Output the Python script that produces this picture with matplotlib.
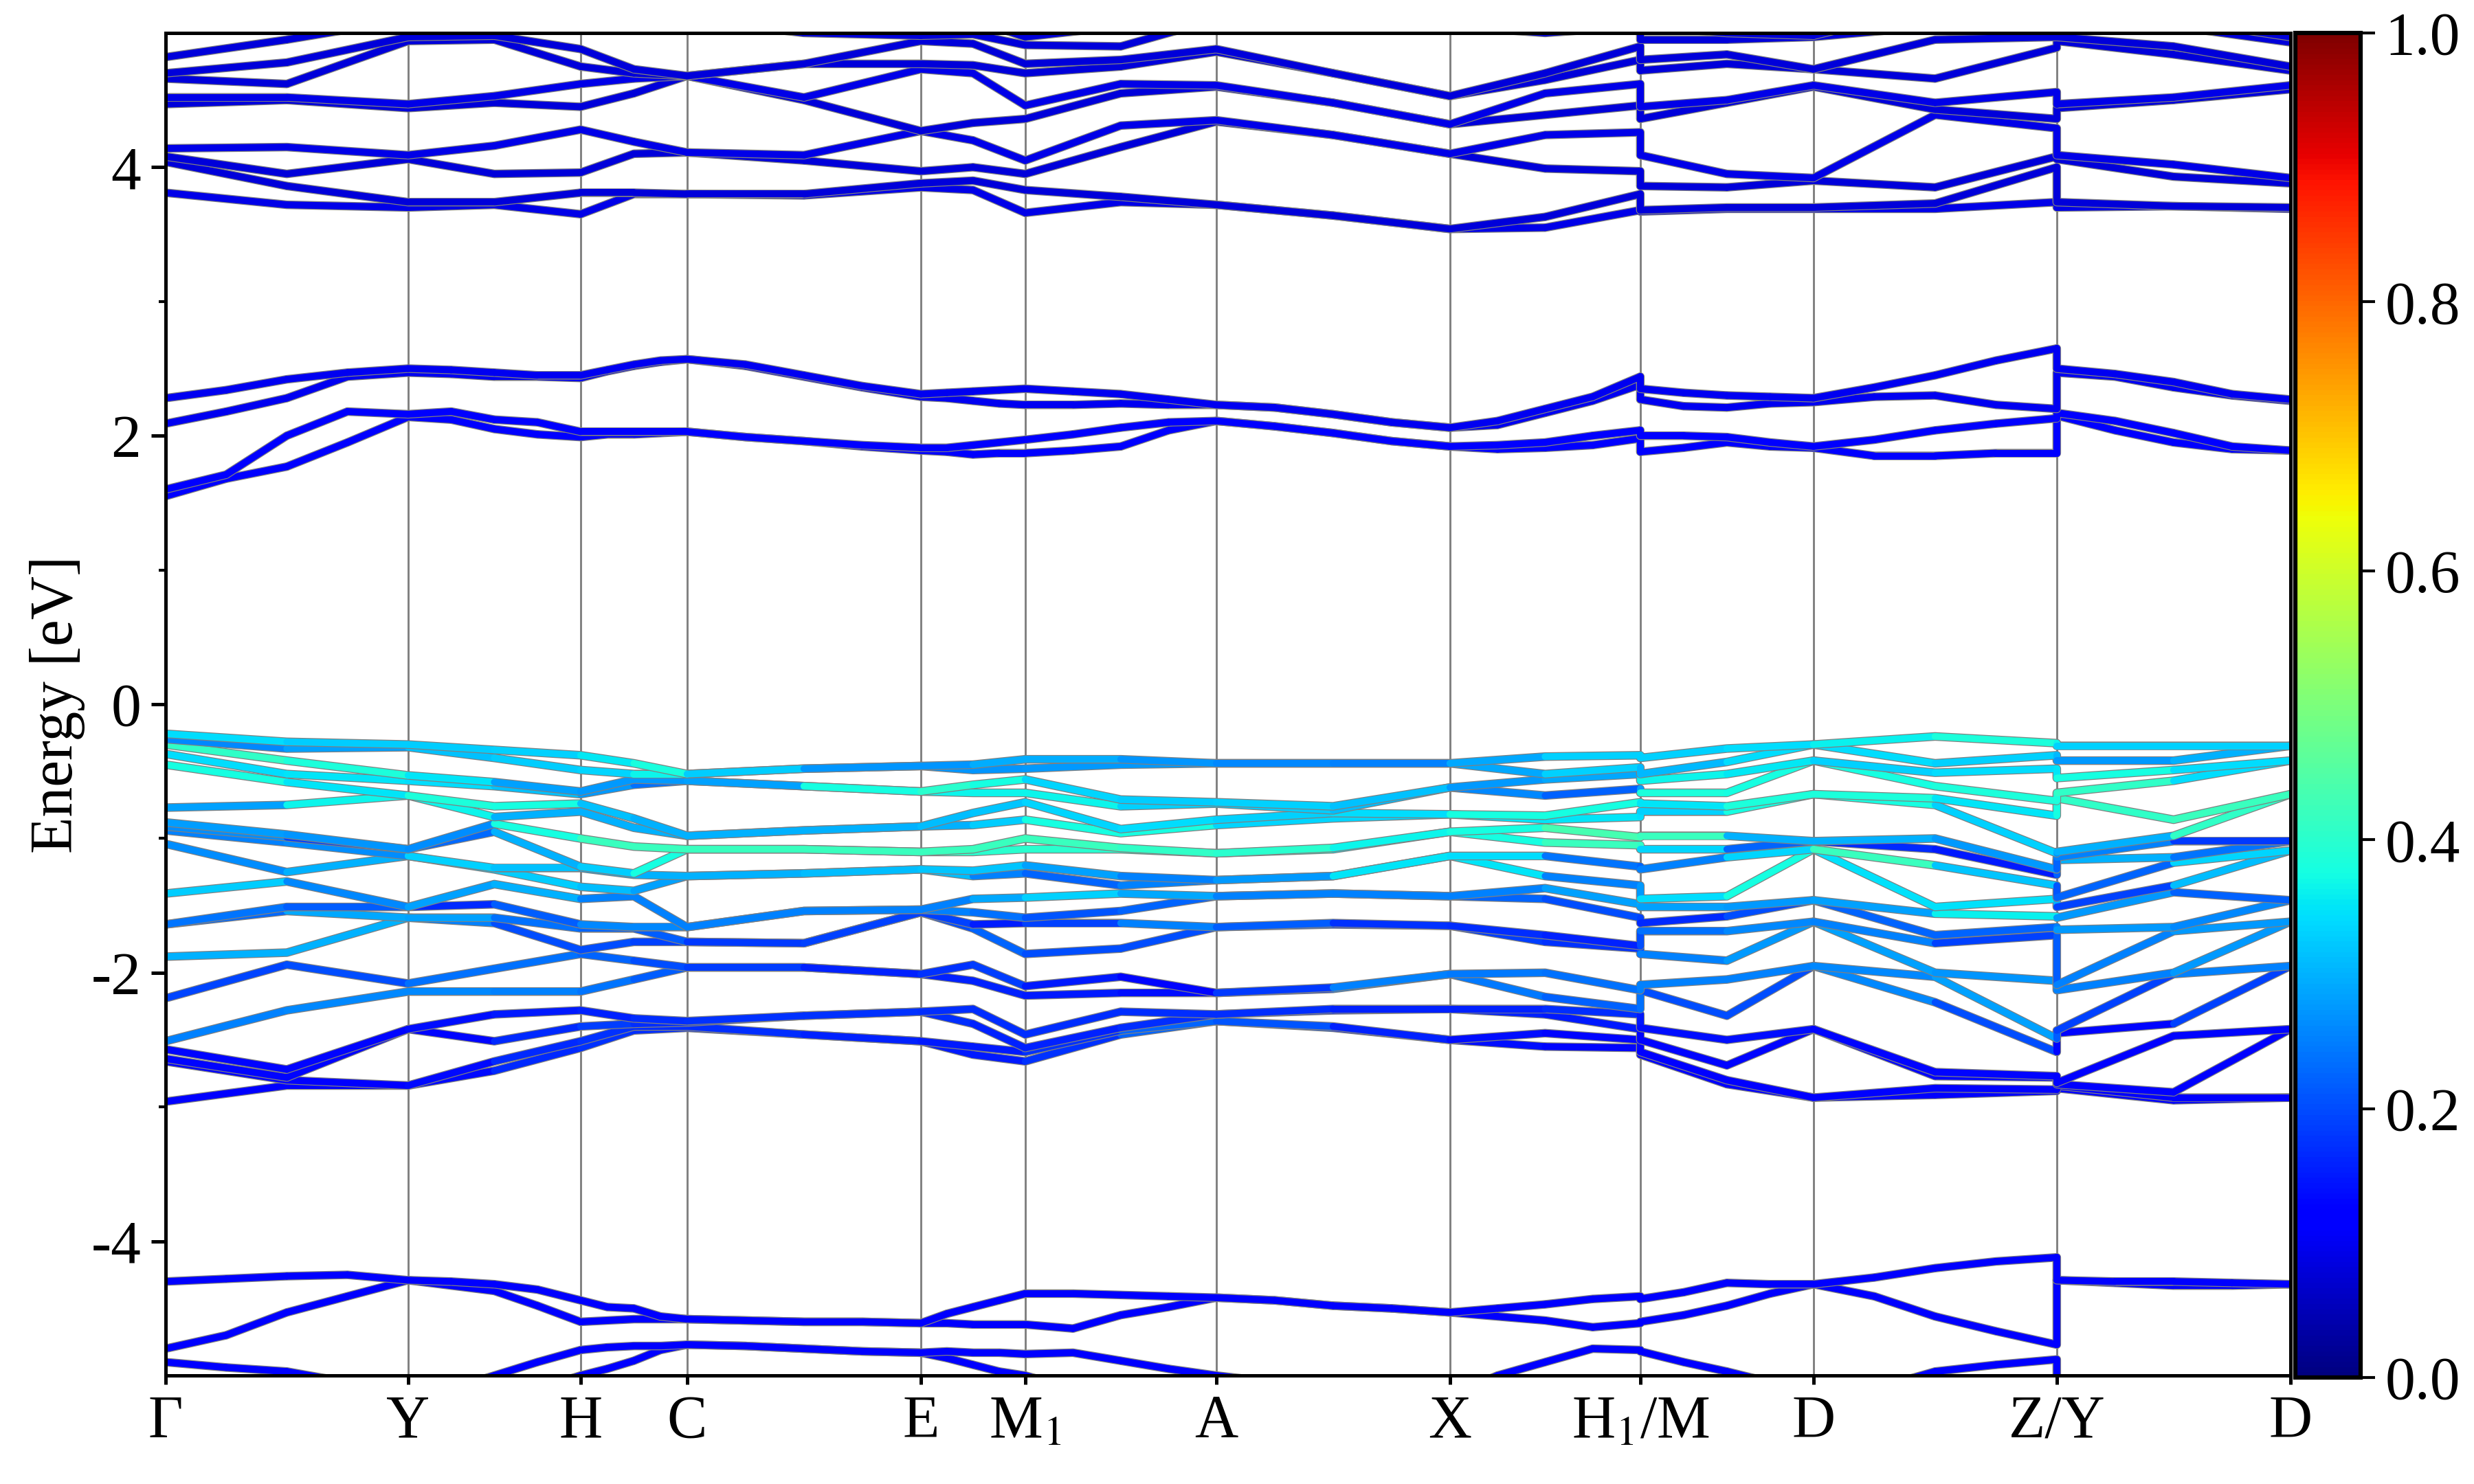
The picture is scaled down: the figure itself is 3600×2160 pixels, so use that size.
import numpy as np
import matplotlib
matplotlib.use('Agg')
import matplotlib.pyplot as plt
from matplotlib.collections import LineCollection
from matplotlib.colors import Normalize
from matplotlib.cm import ScalarMappable

plt.rcParams['font.family'] = ['Liberation Serif', 'DejaVu Serif']
plt.rcParams['mathtext.fontset'] = 'stix'
plt.rcParams['axes.unicode_minus'] = False

# high-symmetry path
labels = ['Γ', 'Y', 'H', 'C', 'E', 'M$_1$', 'A', 'X', 'H$_1$/M', 'D', 'Z/Y', 'D']
knodes = [0.0, 0.353, 0.604, 0.759, 1.099, 1.251, 1.529, 1.869, 2.146, 2.398, 2.752, 3.092]
breaks = [8, 10]   # H1|M and Z|Y are discontinuous

# energies (eV), one row per k-point: nodes + segment midpoints
valence = [
    [-0.22, -0.26, -0.30, -0.37, -0.45, -0.77, -0.88, -0.91, -0.94, -1.04, -1.41, -1.64, -1.64, -1.88, -2.19, -2.51, -2.57, -2.64, -2.66, -2.96],
    [-0.28, -0.33, -0.42, -0.52, -0.58, -0.75, -0.97, -0.99, -1.03, -1.25, -1.32, -1.51, -1.54, -1.85, -1.94, -2.28, -2.72, -2.78, -2.80, -2.84],
    [-0.30, -0.32, -0.53, -0.57, -0.68, -0.68, -1.08, -1.08, -1.13, -1.13, -1.51, -1.51, -1.59, -1.59, -2.08, -2.14, -2.42, -2.42, -2.84, -2.84],
    [-0.34, -0.40, -0.58, -0.61, -0.76, -0.84, -0.89, -0.95, -1.22, -1.23, -1.34, -1.49, -1.59, -1.63, -1.97, -2.14, -2.31, -2.51, -2.66, -2.73],
    [-0.38, -0.49, -0.65, -0.67, -0.74, -0.80, -1.00, -1.21, -1.22, -1.36, -1.45, -1.64, -1.67, -1.83, -1.86, -2.14, -2.28, -2.40, -2.51, -2.56],
    [-0.44, -0.52, -0.56, -0.60, -0.85, -0.92, -1.06, -1.26, -1.27, -1.39, -1.43, -1.66, -1.67, -1.77, -1.91, -2.05, -2.34, -2.38, -2.40, -2.43],
    [-0.52, -0.52, -0.57, -0.57, -0.98, -0.98, -1.08, -1.08, -1.28, -1.28, -1.66, -1.66, -1.77, -1.77, -1.96, -1.96, -2.36, -2.37, -2.40, -2.41],
    [-0.48, -0.48, -0.61, -0.61, -0.94, -0.94, -1.08, -1.08, -1.26, -1.26, -1.54, -1.54, -1.78, -1.78, -1.96, -1.96, -2.32, -2.32, -2.46, -2.46],
    [-0.46, -0.46, -0.65, -0.65, -0.91, -0.91, -1.10, -1.10, -1.23, -1.23, -1.53, -1.53, -1.55, -1.55, -2.01, -2.01, -2.29, -2.29, -2.51, -2.51],
    [-0.45, -0.49, -0.60, -0.66, -0.81, -0.90, -1.08, -1.10, -1.24, -1.28, -1.45, -1.55, -1.64, -1.67, -1.94, -2.06, -2.27, -2.38, -2.55, -2.61],
    [-0.41, -0.48, -0.56, -0.66, -0.73, -0.86, -1.00, -1.08, -1.20, -1.26, -1.44, -1.59, -1.63, -1.86, -2.10, -2.17, -2.46, -2.56, -2.59, -2.66],
    [-0.41, -0.45, -0.71, -0.76, -0.93, -0.96, -1.07, -1.08, -1.28, -1.35, -1.41, -1.54, -1.63, -1.82, -2.03, -2.15, -2.29, -2.41, -2.43, -2.46],
    [-0.44, -0.44, -0.73, -0.74, -0.86, -0.90, -1.11, -1.11, -1.31, -1.31, -1.43, -1.43, -1.66, -1.66, -2.15, -2.15, -2.31, -2.31, -2.36, -2.36],
    [-0.44, -0.44, -0.76, -0.79, -0.81, -0.85, -1.07, -1.08, -1.28, -1.28, -1.41, -1.41, -1.63, -1.64, -2.11, -2.12, -2.27, -2.28, -2.40, -2.41],
    [-0.44, -0.44, -0.62, -0.62, -0.82, -0.82, -0.95, -0.95, -1.13, -1.13, -1.43, -1.43, -1.65, -1.65, -2.01, -2.01, -2.27, -2.27, -2.50, -2.50],
    [-0.39, -0.52, -0.56, -0.68, -0.83, -0.86, -0.92, -1.03, -1.13, -1.28, -1.37, -1.45, -1.72, -1.77, -2.00, -2.18, -2.27, -2.31, -2.45, -2.55],
    [-0.38, -0.47, -0.52, -0.63, -0.73, -0.84, -0.99, -1.05, -1.21, -1.35, -1.49, -1.59, -1.80, -1.82, -2.13, -2.27, -2.31, -2.42, -2.50, -2.56],
    [-0.40, -0.52, -0.57, -0.66, -0.74, -0.80, -0.98, -1.08, -1.23, -1.45, -1.51, -1.63, -1.69, -1.86, -2.09, -2.13, -2.41, -2.50, -2.59, -2.61],
    [-0.33, -0.43, -0.52, -0.66, -0.76, -0.80, -0.98, -1.08, -1.14, -1.43, -1.51, -1.58, -1.69, -1.91, -2.05, -2.32, -2.50, -2.69, -2.80, -2.83],
    [-0.30, -0.30, -0.42, -0.42, -0.67, -0.67, -1.02, -1.02, -1.08, -1.08, -1.46, -1.46, -1.62, -1.62, -1.95, -1.95, -2.42, -2.42, -2.93, -2.93],
    [-0.24, -0.44, -0.51, -0.61, -0.70, -0.75, -1.00, -1.08, -1.20, -1.51, -1.56, -1.72, -1.78, -2.00, -2.03, -2.22, -2.74, -2.77, -2.86, -2.91],
    [-0.29, -0.38, -0.48, -0.72, -0.83, -1.11, -1.23, -1.27, -1.35, -1.45, -1.58, -1.66, -1.72, -2.06, -2.49, -2.59, -2.77, -2.78, -2.87, -2.88],
    [-0.31, -0.42, -0.55, -0.66, -0.70, -1.10, -1.14, -1.16, -1.44, -1.51, -1.59, -1.68, -2.09, -2.13, -2.43, -2.45, -2.82, -2.83, -2.84, -2.86],
    [-0.31, -0.42, -0.49, -0.57, -0.86, -0.98, -1.02, -1.14, -1.18, -1.35, -1.40, -1.66, -1.69, -2.00, -2.01, -2.38, -2.47, -2.89, -2.93, -2.95],
    [-0.31, -0.31, -0.42, -0.42, -0.67, -0.67, -1.02, -1.02, -1.09, -1.09, -1.46, -1.46, -1.62, -1.62, -1.95, -1.95, -2.42, -2.42, -2.93, -2.93],
]

# projected weight of every valence value above (same layout)
w_valence = [
    [0.35, 0.25, 0.40, 0.33, 0.40, 0.27, 0.22, 0.33, 0.30, 0.28, 0.35, 0.18, 0.20, 0.30, 0.24, 0.25, 0.13, 0.13, 0.13, 0.12],
    [0.33, 0.27, 0.42, 0.35, 0.35, 0.30, 0.34, 0.20, 0.20, 0.25, 0.30, 0.28, 0.28, 0.30, 0.15, 0.25, 0.13, 0.13, 0.12, 0.12],
    [0.32, 0.30, 0.35, 0.35, 0.43, 0.35, 0.18, 0.20, 0.35, 0.33, 0.15, 0.22, 0.30, 0.30, 0.25, 0.27, 0.13, 0.13, 0.12, 0.12],
    [0.33, 0.33, 0.35, 0.33, 0.42, 0.30, 0.33, 0.28, 0.33, 0.30, 0.35, 0.18, 0.27, 0.20, 0.22, 0.25, 0.15, 0.13, 0.15, 0.15],
    [0.33, 0.32, 0.22, 0.30, 0.33, 0.30, 0.42, 0.32, 0.30, 0.35, 0.25, 0.25, 0.20, 0.20, 0.25, 0.25, 0.15, 0.20, 0.18, 0.18],
    [0.38, 0.35, 0.33, 0.25, 0.30, 0.30, 0.42, 0.33, 0.30, 0.27, 0.25, 0.27, 0.25, 0.20, 0.20, 0.23, 0.17, 0.17, 0.17, 0.17],
    [0.38, 0.38, 0.22, 0.22, 0.30, 0.30, 0.42, 0.42, 0.30, 0.30, 0.25, 0.25, 0.18, 0.18, 0.20, 0.20, 0.17, 0.17, 0.17, 0.17],
    [0.27, 0.27, 0.35, 0.35, 0.30, 0.30, 0.42, 0.42, 0.30, 0.30, 0.25, 0.25, 0.18, 0.18, 0.17, 0.17, 0.18, 0.18, 0.17, 0.17],
    [0.27, 0.27, 0.40, 0.40, 0.30, 0.30, 0.42, 0.42, 0.32, 0.32, 0.25, 0.25, 0.20, 0.20, 0.15, 0.15, 0.17, 0.17, 0.15, 0.15],
    [0.27, 0.27, 0.40, 0.33, 0.32, 0.30, 0.42, 0.40, 0.32, 0.30, 0.25, 0.25, 0.18, 0.20, 0.20, 0.17, 0.17, 0.17, 0.15, 0.15],
    [0.32, 0.27, 0.35, 0.40, 0.32, 0.35, 0.42, 0.40, 0.32, 0.20, 0.33, 0.22, 0.13, 0.25, 0.17, 0.15, 0.17, 0.15, 0.15, 0.15],
    [0.27, 0.28, 0.32, 0.33, 0.35, 0.40, 0.42, 0.40, 0.25, 0.25, 0.33, 0.20, 0.25, 0.15, 0.13, 0.15, 0.17, 0.17, 0.20, 0.20],
    [0.27, 0.27, 0.33, 0.33, 0.33, 0.35, 0.40, 0.40, 0.25, 0.25, 0.25, 0.25, 0.25, 0.25, 0.13, 0.13, 0.17, 0.17, 0.25, 0.25],
    [0.25, 0.25, 0.33, 0.32, 0.33, 0.32, 0.40, 0.38, 0.30, 0.30, 0.25, 0.25, 0.18, 0.18, 0.23, 0.23, 0.17, 0.17, 0.17, 0.17],
    [0.25, 0.25, 0.30, 0.30, 0.35, 0.35, 0.33, 0.33, 0.40, 0.40, 0.25, 0.25, 0.17, 0.17, 0.27, 0.27, 0.15, 0.15, 0.15, 0.15],
    [0.33, 0.33, 0.25, 0.22, 0.40, 0.35, 0.42, 0.42, 0.28, 0.30, 0.25, 0.20, 0.17, 0.20, 0.22, 0.22, 0.17, 0.17, 0.13, 0.13],
    [0.33, 0.33, 0.33, 0.22, 0.35, 0.35, 0.45, 0.42, 0.20, 0.20, 0.32, 0.20, 0.15, 0.15, 0.25, 0.22, 0.17, 0.13, 0.13, 0.13],
    [0.33, 0.28, 0.35, 0.35, 0.35, 0.33, 0.42, 0.40, 0.25, 0.35, 0.27, 0.18, 0.25, 0.25, 0.25, 0.25, 0.13, 0.13, 0.13, 0.13],
    [0.33, 0.33, 0.38, 0.42, 0.35, 0.33, 0.42, 0.27, 0.25, 0.33, 0.30, 0.15, 0.22, 0.25, 0.25, 0.15, 0.15, 0.13, 0.12, 0.12],
    [0.35, 0.35, 0.33, 0.33, 0.42, 0.42, 0.18, 0.18, 0.42, 0.42, 0.25, 0.25, 0.30, 0.30, 0.25, 0.25, 0.13, 0.13, 0.12, 0.12],
    [0.37, 0.33, 0.33, 0.42, 0.35, 0.33, 0.42, 0.15, 0.42, 0.27, 0.32, 0.20, 0.20, 0.27, 0.27, 0.27, 0.13, 0.13, 0.13, 0.13],
    [0.40, 0.33, 0.35, 0.35, 0.35, 0.33, 0.13, 0.15, 0.22, 0.42, 0.40, 0.25, 0.18, 0.27, 0.30, 0.13, 0.13, 0.13, 0.12, 0.12],
    [0.33, 0.28, 0.35, 0.42, 0.40, 0.20, 0.32, 0.30, 0.20, 0.18, 0.33, 0.25, 0.25, 0.25, 0.13, 0.13, 0.12, 0.12, 0.12, 0.12],
    [0.33, 0.27, 0.40, 0.40, 0.42, 0.40, 0.18, 0.30, 0.25, 0.20, 0.22, 0.30, 0.25, 0.25, 0.25, 0.13, 0.13, 0.12, 0.12, 0.12],
    [0.33, 0.33, 0.28, 0.28, 0.42, 0.42, 0.18, 0.18, 0.42, 0.42, 0.22, 0.22, 0.30, 0.30, 0.25, 0.25, 0.13, 0.13, 0.12, 0.12],
]

cond_high = [
    [3.81, 4.04, 4.08, 4.14, 4.47, 4.52, 4.66, 4.70, 4.82, 5.10],
    [3.72, 3.86, 3.95, 4.15, 4.50, 4.52, 4.62, 4.78, 4.95, 5.10],
    [3.70, 3.74, 4.06, 4.09, 4.44, 4.47, 4.94, 4.97, 5.10, 5.15],
    [3.72, 3.74, 3.95, 4.16, 4.48, 4.53, 4.95, 4.98, 5.10, 5.20],
    [3.65, 3.81, 3.96, 4.28, 4.45, 4.62, 4.75, 4.88, 5.02, 5.20],
    [3.80, 3.81, 4.10, 4.19, 4.55, 4.66, 4.70, 4.73, 5.05, 5.20],
    [3.80, 3.80, 4.11, 4.11, 4.68, 4.68, 4.68, 4.68, 5.10, 5.20],
    [3.79, 3.80, 4.05, 4.09, 4.50, 4.52, 4.77, 4.77, 5.00, 5.10],
    [3.85, 3.88, 3.97, 4.27, 4.27, 4.73, 4.77, 4.94, 4.98, 5.10],
    [3.83, 3.90, 4.00, 4.20, 4.33, 4.70, 4.76, 4.92, 4.99, 5.10],
    [3.66, 3.83, 3.95, 4.05, 4.36, 4.46, 4.70, 4.77, 4.91, 4.97],
    [3.74, 3.78, 4.15, 4.31, 4.55, 4.62, 4.75, 4.80, 4.90, 5.05],
    [3.72, 3.72, 4.34, 4.35, 4.60, 4.61, 4.86, 4.88, 5.10, 5.10],
    [3.64, 3.64, 4.24, 4.24, 4.48, 4.48, 4.70, 4.70, 5.10, 5.10],
    [3.54, 3.54, 4.10, 4.10, 4.32, 4.32, 4.53, 4.53, 5.05, 5.05],
    [3.55, 3.63, 3.99, 4.24, 4.39, 4.55, 4.65, 4.70, 5.00, 5.10],
    [3.68, 3.80, 3.97, 4.26, 4.46, 4.62, 4.80, 4.90, 5.05, 5.15],
    [3.67, 3.68, 3.86, 4.09, 4.36, 4.45, 4.72, 4.80, 4.95, 5.05],
    [3.69, 3.70, 3.85, 3.95, 4.48, 4.50, 4.77, 4.84, 4.95, 5.00],
    [3.69, 3.70, 3.90, 3.92, 4.60, 4.61, 4.73, 4.73, 4.97, 4.98],
    [3.69, 3.73, 3.85, 4.39, 4.43, 4.48, 4.66, 4.95, 5.05, 5.20],
    [3.74, 4.00, 4.08, 4.29, 4.36, 4.56, 4.89, 4.97, 5.05, 5.20],
    [3.70, 3.74, 4.06, 4.09, 4.44, 4.47, 4.94, 4.97, 5.10, 5.15],
    [3.71, 3.71, 3.93, 4.02, 4.50, 4.52, 4.84, 4.90, 5.05, 5.10],
    [3.69, 3.70, 3.88, 3.92, 4.58, 4.61, 4.72, 4.75, 4.93, 4.97],
]

# these two groups are read at quarter points of every segment
cond_low = [
    [1.55, 1.60, 2.09, 2.28], [1.68, 1.71, 2.18, 2.34], [1.77, 2.00, 2.28, 2.42], [1.95, 2.18, 2.44, 2.47],
    [2.14, 2.16, 2.47, 2.50], [2.12, 2.18, 2.46, 2.49], [2.05, 2.12, 2.44, 2.47], [2.01, 2.10, 2.44, 2.45],
    [1.99, 2.03, 2.43, 2.45], [2.01, 2.03, 2.48, 2.49], [2.01, 2.03, 2.52, 2.53], [2.02, 2.03, 2.55, 2.56],
    [2.03, 2.03, 2.57, 2.57], [1.99, 1.99, 2.52, 2.53], [1.96, 1.96, 2.44, 2.45], [1.92, 1.93, 2.36, 2.37],
    [1.89, 1.91, 2.29, 2.31], [1.88, 1.91, 2.28, 2.32], [1.86, 1.93, 2.26, 2.33], [1.87, 1.95, 2.24, 2.34],
    [1.87, 1.97, 2.23, 2.35], [1.89, 2.01, 2.23, 2.33], [1.92, 2.06, 2.24, 2.31], [2.04, 2.10, 2.23, 2.27],
    [2.11, 2.11, 2.23, 2.23], [2.07, 2.07, 2.21, 2.21], [2.02, 2.02, 2.16, 2.16], [1.96, 1.96, 2.10, 2.10],
    [1.92, 1.92, 2.06, 2.06], [1.90, 1.93, 2.08, 2.11], [1.91, 1.95, 2.17, 2.20], [1.93, 2.00, 2.26, 2.29],
    [1.98, 2.04, 2.38, 2.44], [1.88, 2.00, 2.27, 2.35], [1.91, 2.00, 2.22, 2.32], [1.95, 1.99, 2.21, 2.30],
    [1.92, 1.95, 2.24, 2.29], [1.91, 1.92, 2.25, 2.28], [1.85, 1.97, 2.29, 2.36], [1.85, 2.04, 2.30, 2.45],
    [1.87, 2.09, 2.23, 2.56], [1.87, 2.13, 2.20, 2.65], [2.15, 2.17, 2.47, 2.50], [2.04, 2.11, 2.44, 2.46],
    [1.95, 2.02, 2.36, 2.40], [1.90, 1.92, 2.30, 2.31], [1.89, 1.89, 2.26, 2.27],
]

deep = [
    [-5.25, -4.90, -4.80, -4.30], [-5.22, -4.94, -4.70, -4.28], [-5.20, -4.97, -4.53, -4.26], [-5.20, -5.05, -4.41, -4.25],
    [-5.20, -5.10, -4.29, -4.29], [-5.20, -5.10, -4.33, -4.30], [-5.20, -5.00, -4.37, -4.32], [-5.10, -4.90, -4.48, -4.36],
    [-5.00, -4.81, -4.60, -4.44], [-4.95, -4.79, -4.59, -4.49], [-4.89, -4.78, -4.58, -4.50], [-4.81, -4.78, -4.58, -4.56],
    [-4.77, -4.77, -4.58, -4.58], [-4.78, -4.78, -4.59, -4.59], [-4.80, -4.80, -4.60, -4.60], [-4.82, -4.82, -4.60, -4.60],
    [-4.83, -4.83, -4.61, -4.61], [-4.87, -4.82, -4.61, -4.54], [-4.92, -4.83, -4.62, -4.49], [-4.97, -4.83, -4.62, -4.44],
    [-5.00, -4.84, -4.62, -4.39], [-5.10, -4.83, -4.65, -4.39], [-5.10, -4.89, -4.55, -4.40], [-5.10, -4.95, -4.49, -4.41],
    [-5.10, -5.00, -4.42, -4.42], [-5.10, -5.05, -4.44, -4.44], [-5.15, -5.10, -4.48, -4.48], [-5.15, -5.12, -4.50, -4.50],
    [-5.20, -5.15, -4.53, -4.53], [-5.15, -5.00, -4.56, -4.50], [-5.10, -4.90, -4.59, -4.47], [-5.05, -4.80, -4.64, -4.43],
    [-5.05, -4.81, -4.61, -4.41], [-5.05, -4.82, -4.60, -4.43], [-5.10, -4.90, -4.55, -4.38], [-5.10, -4.97, -4.48, -4.31],
    [-5.15, -5.05, -4.39, -4.32], [-5.15, -5.10, -4.32, -4.32], [-5.15, -5.10, -4.41, -4.27], [-5.10, -4.97, -4.56, -4.20],
    [-5.10, -4.92, -4.67, -4.15], [-5.10, -4.88, -4.77, -4.12], [-5.20, -5.10, -4.29, -4.29], [-5.20, -5.10, -4.30, -4.31],
    [-5.20, -5.10, -4.30, -4.33], [-5.15, -5.10, -4.31, -4.33], [-5.15, -5.10, -4.32, -4.32],
]

# weights of the other groups, one per band (lowest band first)
w_cond_low = [0.11, 0.11, 0.10, 0.10]
w_cond_high = [0.09, 0.08, 0.08, 0.09, 0.08, 0.09, 0.08, 0.08, 0.08, 0.08]
w_deep = [0.11, 0.11, 0.11, 0.11]


def kgrid(nrows):
    # k coordinate of each row: nodes, equally spaced readings, repeated break nodes
    n = (nrows - 14) // 11 + 1
    kx = []
    for i in range(len(knodes) - 1):
        a, b = knodes[i], knodes[i + 1]
        kx.append(a)
        if i in breaks:
            kx.append(a)
        for j in range(1, n):
            kx.append(a + (b - a) * j / n)
    kx.append(knodes[-1])
    return np.array(kx)


cmap = plt.get_cmap('jet')
norm = Normalize(0, 1)

fig = plt.figure(figsize=(12, 7.2), dpi=300)
ax = fig.add_axes([0.0669, 0.0731, 0.8589, 0.9047])
cax = fig.add_axes([0.9278, 0.0718, 0.0264, 0.9060])

for k in knodes[1:-1]:
    ax.axvline(k, color='0.5', lw=0.7, zorder=1)


def draw_bands(table, weights):
    e = np.array(table)
    order = np.argsort(e, axis=1, kind='stable')
    e = np.take_along_axis(e, order, axis=1)
    w = np.array(weights, dtype=float)
    if w.ndim == 2:
        w = np.take_along_axis(w, order, axis=1)
    else:
        w = np.tile(w, (e.shape[0], 1))
    kx = kgrid(len(table))
    for j in range(e.shape[1]):
        ax.plot(kx, e[:, j], color='0.5', lw=3.0, solid_joinstyle='round',
                solid_capstyle='round', zorder=2)
        pts = np.column_stack([kx, e[:, j]])
        segs = np.stack([pts[:-1], pts[1:]], axis=1)
        lc = LineCollection(segs, cmap=cmap, norm=norm, lw=2.4,
                            capstyle='round', joinstyle='round', zorder=2)
        lc.set_array(0.5 * (w[:-1, j] + w[1:, j]))
        ax.add_collection(lc)


draw_bands(deep, w_deep)
draw_bands(valence, w_valence)
draw_bands(cond_low, w_cond_low)
draw_bands(cond_high, w_cond_high)

ax.set_xlim(knodes[0], knodes[-1])
ax.set_ylim(-5, 5)
ax.set_xticks(knodes)
ax.set_xticklabels(labels)
ax.set_yticks([-4, -2, 0, 2, 4])
ax.set_yticks([-3, -1, 1, 3], minor=True)
ax.tick_params(axis='both', labelsize=21, width=1.2)
ax.tick_params(axis='y', length=5)
ax.tick_params(axis='y', which='minor', length=2.5, width=1.0)
ax.tick_params(axis='x', length=3)
ax.set_ylabel('Energy [eV]', fontsize=21, labelpad=2)
for s in ax.spines.values():
    s.set_linewidth(1.2)

sm = ScalarMappable(norm=norm, cmap=cmap)
cb = fig.colorbar(sm, cax=cax)
cb.set_ticks([0.0, 0.2, 0.4, 0.6, 0.8, 1.0])
cb.ax.set_yticklabels(['0.0', '0.2', '0.4', '0.6', '0.8', '1.0'])
cb.ax.tick_params(labelsize=21, length=5, width=1.0)
cb.outline.set_linewidth(1.5)

fig.savefig('out.png', dpi=300)
